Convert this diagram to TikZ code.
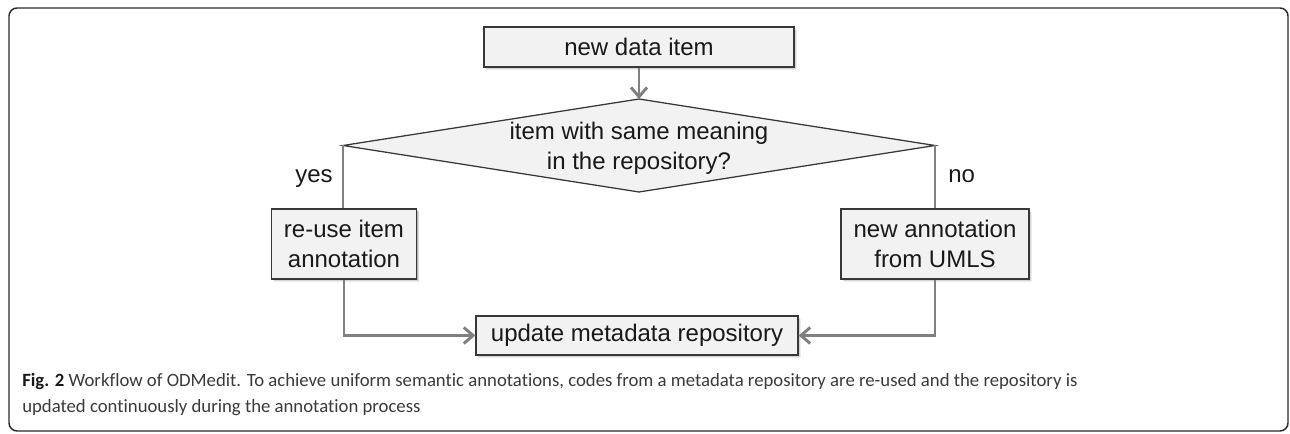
\documentclass[tikz,border=0pt]{standalone}
\usepackage{fontspec}
\setmainfont{Liberation Sans}
\newfontfamily\capfont[Ligatures={NoCommon}]{Carlito}
\usetikzlibrary{arrows.meta,shadows}
\definecolor{boxfill}{HTML}{F2F2F2}
\definecolor{boxline}{HTML}{383838}
\definecolor{flow}{HTML}{808080}
\definecolor{captext}{HTML}{3A3A3A}
\definecolor{framecol}{HTML}{2A2A2A}
\begin{document}
\begin{tikzpicture}[x=0.75pt,y=-0.75pt,
  softshadow/.style={
    general shadow={shadow xshift=2.2pt, shadow yshift=-2.4pt, fill=black, opacity=0.07},
    general shadow={shadow xshift=1.6pt, shadow yshift=-1.8pt, fill=black, opacity=0.10},
    general shadow={shadow xshift=1.0pt, shadow yshift=-1.1pt, fill=black, opacity=0.14}},
  boxtext/.style={font=\fontsize{18}{22.5}\selectfont, text=black!90},
  stepbox/.style={draw=boxline, line width=0.95pt, fill=boxfill, softshadow,
    align=center, inner sep=0pt, boxtext},
  flowline/.style={draw=flow, line width=2.2pt},
  flowarrow/.style={flowline, -{Straight Barb[length=7pt, width=12pt, line width=2.2pt]}},
  lbl/.style={boxtext, inner sep=0pt},
  captxt/.style={font=\capfont\fontsize{14.05}{17}\selectfont, text=captext, inner sep=0pt}
]
% canvas and outer frame
\useasboundingbox (0,0) rectangle (1290,434);
\draw[framecol, line width=1.1pt, rounded corners=6pt] (9,8) rectangle (1288,431);

% process boxes
\node[stepbox, minimum width=310*0.75pt, minimum height=40*0.75pt] (start) at (639,47) {new data item};
\node[stepbox, minimum width=145*0.75pt, minimum height=70*0.75pt] (reuse) at (344,244) {re-use item\\annotation};
\node[stepbox, minimum width=188*0.75pt, minimum height=70*0.75pt] (umls) at (935,244) {new annotation\\from UMLS};
\node[stepbox, minimum width=322*0.75pt, minimum height=39*0.75pt] (update) at (637,335.5) {update metadata repository};

% decision diamond
\coordinate (qN) at (639,99);
\coordinate (qE) at (935,145.5);
\coordinate (qS) at (639,192);
\coordinate (qW) at (343,145.5);
\draw[draw=boxline, line width=0.95pt, fill=boxfill, line join=miter] (qN) -- (qE) -- (qS) -- (qW) -- cycle;
\node[lbl, align=center] (question) at (639,148) {item with same meaning\\in the repository?};

% branch labels
\node[lbl, anchor=base east] (yes) at (333,183) {yes};
\node[lbl, anchor=base west] (no) at (948,183) {no};

% connectors
\draw[flowarrow] (start.south) -- (qN);
\draw[flowline] (qW) -- (qW |- reuse.north);
\draw[flowline] (qE) -- (qE |- umls.north);
\draw[flowarrow] (reuse.south) |- (update.west);
\draw[flowarrow] (umls.south) |- (update.east);

% caption
\node[captxt, anchor=base west] (cap1) at (22,387) {{\bfseries\color{black!90}Fig. 2} Workflow of ODMedit. To achieve uniform semantic annotations, codes from a metadata repository are re-used and the repository is};
\node[captxt, anchor=base west] (cap2) at (22,413) {updated continuously during the annotation process};
\end{tikzpicture}
\end{document}
